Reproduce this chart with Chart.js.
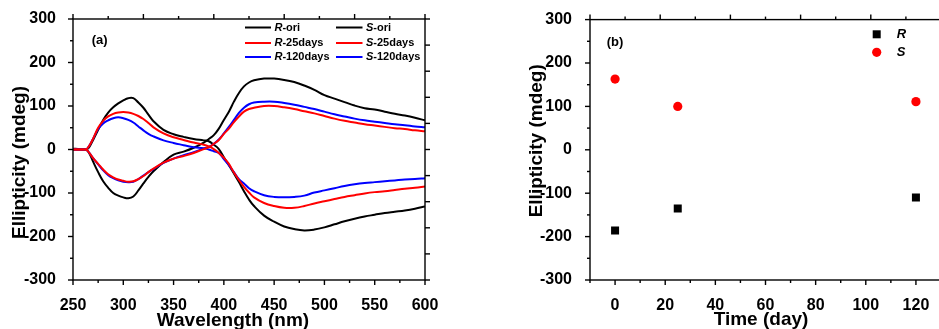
<!DOCTYPE html>
<html>
<head>
<meta charset="utf-8">
<script src="https://cdn.jsdelivr.net/npm/chart.js@4.4.1/dist/chart.umd.min.js"></script>
<style>
  html, body { margin:0; padding:0; background:#fff; overflow:hidden; }
  #wrapA { position:absolute; left:0; top:0; width:470px; height:329px; }
  #wrapB { position:absolute; left:470px; top:0; width:480px; height:329px; }
</style>
</head>
<body>
<div id="wrapA"><canvas id="cdChart"></canvas></div>
<div id="wrapB"><canvas id="timeChart"></canvas></div>
<script>
// ── (a) CD spectra ──
const wavelength = [250,255,260,263,266, 270,275,280,285,290, 295,300,305,310,315, 320,325,330,340,350,
                    360,370,380,385,390, 395,400,405,410,415, 420,425,430,440,450, 460,470,480,490,500,
                    510,520,530,540,550, 560,570,580,590,600];
const rOri = [2,1,0,0,5, 22,45,68,85,97, 106,113,118,118,108, 96,80,65,45,35,
              29,24,21,19,11, 1,-18,-36,-55,-75, -96,-115,-130,-152,-166, -177,-183,-186,-184,-179,
              -172,-165,-159,-154,-150, -146,-143,-140,-136,-131];
const sOri = [0,0,0,0,-8, -28,-52,-73,-88,-100, -106,-110,-112,-108,-94, -78,-63,-50,-29,-12,
              -5,4,16,24,33, 48,68,87,110,130, 145,154,159,163,163, 160,155,147,137,125,
              117,109,101,95,92, 87,82,78,73,67];
const r25 = [0,0,0,0,8, 25,50,66,76,82, 85,86,85,82,77, 70,61,51,37,28,
             22,16,11,7,1, -8,-19,-33,-53,-70, -86,-99,-110,-123,-130, -134,-134,-130,-124,-119,
             -114,-109,-105,-101,-98, -96,-93,-90,-88,-85];
const s25 = [0,0,0,0,-7, -20,-33,-46,-57,-64, -69,-72,-74,-73,-68, -61,-52,-44,-30,-21,
             -15,-8,1,5,13, 22,36,48,63,76, 87,93,96,100,100, 97,93,88,83,77,
             71,66,62,58,55, 52,49,47,44,42];
const r120 = [0,0,0,0,8, 25,47,60,67,72, 74,72,68,62,53, 44,36,30,21,15,
              10,5,3,0,-4, -8,-22,-36,-52,-68, -78,-89,-96,-105,-109, -110,-109,-106,-99,-94,
              -89,-84,-80,-77,-75, -73,-71,-69,-68,-66];
const s120 = [0,0,0,0,-7, -20,-34,-48,-59,-66, -71,-74,-75,-74,-68, -60,-52,-45,-31,-21,
              -13,-6,2,6,13, 23,37,52,68,84, 96,104,108,110,110, 107,103,98,93,87,
              81,76,71,67,64, 61,58,56,53,51];
const seriesNames = ['R-ori', 'S-ori', 'R-25days', 'S-25days', 'R-120days', 'S-120days'];

// ── (b) peak ellipticity vs time ──
const days = [0, 25, 120];
const rPeak = [-186, -135, -110];
const sPeak = [163, 100, 111];

// tick labels
const wlTicks = [250, 300, 350, 400, 450, 500, 550, 600];
const ellTicks = [-300, -200, -100, 0, 100, 200, 300];
const dayTicks = [0, 20, 40, 60, 80, 100, 120];
// the mirrored top / right axes carry their own (unlabelled) tick spacing
const topTicksA = [250, 285, 320, 355, 390, 425, 460, 495, 530, 565, 600];
const rightTicksA = [-300, -240, -180, -120, -60, 0, 60, 120, 180, 240, 300];
const topTicksB = [-10, 4, 18, 32, 46, 60, 74, 88, 102, 116, 130];
const minorDays = [-10, 10, 30, 50, 70, 90, 110, 130];

const FONT = '"Liberation Sans", Arial, sans-serif';
const mids = arr => arr.slice(1).map((v, i) => (v + arr[i]) / 2);
const pts = (xs, ys) => xs.map((x, i) => ({ x, y: ys[i] }));

function marks(ctx, scale, values, side, len, a) {
  values.forEach(v => {
    const p = scale.getPixelForValue(v);
    ctx.beginPath();
    if (side === 'bottom') { ctx.moveTo(p, a.bottom); ctx.lineTo(p, a.bottom + len); }
    if (side === 'top')    { ctx.moveTo(p, a.top);    ctx.lineTo(p, a.top - len); }
    if (side === 'left')   { ctx.moveTo(a.left, p);   ctx.lineTo(a.left - len, p); }
    if (side === 'right')  { ctx.moveTo(a.right, p);  ctx.lineTo(a.right + len, p); }
    ctx.stroke();
  });
}

function label(ctx, txt, x, y, size) {
  // first letter (R / S) in italics, rest upright
  ctx.font = `italic bold ${size}px ${FONT}`;
  ctx.fillText(txt[0], x, y);
  const w = ctx.measureText(txt[0]).width;
  ctx.font = `bold ${size}px ${FONT}`;
  ctx.fillText(txt.slice(1), x + w, y);
}

function decor(cfg) {
  return {
    id: 'decor',
    afterDraw(chart) {
      const { ctx, chartArea: a, scales: { x, y } } = chart;
      ctx.save();
      ctx.strokeStyle = '#000';
      ctx.fillStyle = '#000';
      ctx.lineWidth = 1.4;
      ctx.strokeRect(a.left, a.top, a.right - a.left, a.bottom - a.top);

      marks(ctx, x, cfg.bottom, 'bottom', 5, a);
      marks(ctx, x, cfg.bottomMinor, 'bottom', 3, a);
      marks(ctx, y, ellTicks, 'left', 5, a);
      marks(ctx, y, mids(ellTicks), 'left', 3, a);
      marks(ctx, x, cfg.top.filter((v, i) => i % 2 === 0), 'top', 5, a);
      marks(ctx, x, cfg.top.filter((v, i) => i % 2 === 1), 'top', 3, a);
      if (cfg.right) marks(ctx, y, cfg.right, 'right', 5, a);

      // axis titles
      ctx.font = `bold 19px ${FONT}`;
      ctx.textAlign = 'center';
      ctx.textBaseline = 'alphabetic';
      ctx.fillText(cfg.xTitle[0], cfg.xTitle[1], cfg.xTitle[2]);
      ctx.save();
      ctx.translate(cfg.yTitle[1], cfg.yTitle[2]);
      ctx.rotate(-Math.PI / 2);
      ctx.fillText(cfg.yTitle[0], 0, 0);
      ctx.restore();

      // panel tag
      ctx.textAlign = 'left';
      ctx.textBaseline = 'middle';
      ctx.font = `bold 13px ${FONT}`;
      ctx.fillText(cfg.tag[0], cfg.tag[1], cfg.tag[2]);

      cfg.legend(ctx);
      ctx.restore();
    }
  };
}

const axisFont = { family: FONT, size: 16, weight: 'bold' };
const setTicks = list => s => { s.ticks = list.map(v => ({ value: v })); };

function baseScales(xMin, xMax, xList, yWidth, yPad) {
  return {
    x: {
      type: 'linear', min: xMin, max: xMax,
      afterBuildTicks: setTicks(xList),
      afterFit: s => { s.height = 49; },
      grid: { display: false }, border: { display: false },
      ticks: { font: axisFont, color: '#000', padding: 8, maxRotation: 0, autoSkip: false }
    },
    y: {
      type: 'linear', min: -300, max: 300,
      afterBuildTicks: setTicks(ellTicks),
      afterFit: s => { s.width = yWidth; },
      grid: { display: false }, border: { display: false },
      ticks: { font: axisFont, color: '#000', padding: yPad, autoSkip: false }
    }
  };
}

Chart.defaults.font.family = FONT;

// ── chart (a) ──
const lineColors = ['#000000', '#000000', '#FF0000', '#FF0000', '#0000FF', '#0000FF'];
const lineData = [rOri, sOri, r25, s25, r120, s120];
const lineOrder = [2, 2, 0, 0, 1, 1];

new Chart(document.getElementById('cdChart'), {
  type: 'line',
  data: {
    datasets: lineData.map((d, i) => ({
      label: seriesNames[i],
      data: pts(wavelength, d),
      borderColor: lineColors[i],
      borderWidth: 2,
      pointRadius: 0,
      tension: 0.4,
      fill: false,
      order: lineOrder[i]
    }))
  },
  options: {
    responsive: true,
    maintainAspectRatio: false,
    animation: false,
    layout: { padding: { left: 0, right: 45, top: 19, bottom: 0 } },
    plugins: { legend: { display: false }, tooltip: { enabled: false } },
    scales: baseScales(250, 600, wlTicks, 73, 9)
  },
  plugins: [decor({
    bottom: wlTicks, bottomMinor: mids(wlTicks),
    top: topTicksA, right: rightTicksA,
    xTitle: ['Wavelength (nm)', 233, 326],
    yTitle: ['Ellipticity (mdeg)', 25.3, 162.5],
    tag: ['(a)', 91.7, 40],
    legend(ctx) {
      const cols = [[245, 271, 274.5], [336, 362.5, 366]];
      const rows = [27.5, 43, 57];
      seriesNames.forEach((name, i) => {
        const c = cols[i % 2], yy = rows[Math.floor(i / 2)];
        ctx.strokeStyle = lineColors[i];
        ctx.lineWidth = 2;
        ctx.beginPath(); ctx.moveTo(c[0], yy); ctx.lineTo(c[1], yy); ctx.stroke();
        ctx.fillStyle = '#000';
        label(ctx, name, c[2], yy, 11);
      });
    }
  })]
});

// ── chart (b) ──
new Chart(document.getElementById('timeChart'), {
  type: 'scatter',
  data: {
    datasets: [
      { label: 'R', data: pts(days, rPeak), pointStyle: 'rect', pointRadius: 5.66,
        backgroundColor: '#000', borderWidth: 0 },
      { label: 'S', data: pts(days, sPeak), pointStyle: 'circle', pointRadius: 4.6,
        backgroundColor: '#FF0000', borderWidth: 0 }
    ]
  },
  options: {
    responsive: true,
    maintainAspectRatio: false,
    animation: false,
    layout: { padding: { left: 0, right: 9, top: 19, bottom: 0 } },
    plugins: { legend: { display: false }, tooltip: { enabled: false } },
    scales: baseScales(-10, 130, dayTicks, 120, 10)
  },
  plugins: [decor({
    bottom: dayTicks, bottomMinor: minorDays,
    top: topTicksB, right: null,
    xTitle: ['Time (day)', 291, 324.5],
    yTitle: ['Ellipticity (mdeg)', 71.9, 140.8],
    tag: ['(b)', 136.7, 42.7],
    legend(ctx) {
      ctx.fillStyle = '#000';
      ctx.fillRect(402.7, 30.3, 8, 8);
      ctx.fillStyle = '#FF0000';
      ctx.beginPath(); ctx.arc(406.7, 52.3, 4.6, 0, Math.PI * 2); ctx.fill();
      ctx.fillStyle = '#000';
      label(ctx, 'R', 426.7, 34.3, 13);
      label(ctx, 'S', 426.7, 52.3, 13);
    }
  })]
});
</script>
</body>
</html>
